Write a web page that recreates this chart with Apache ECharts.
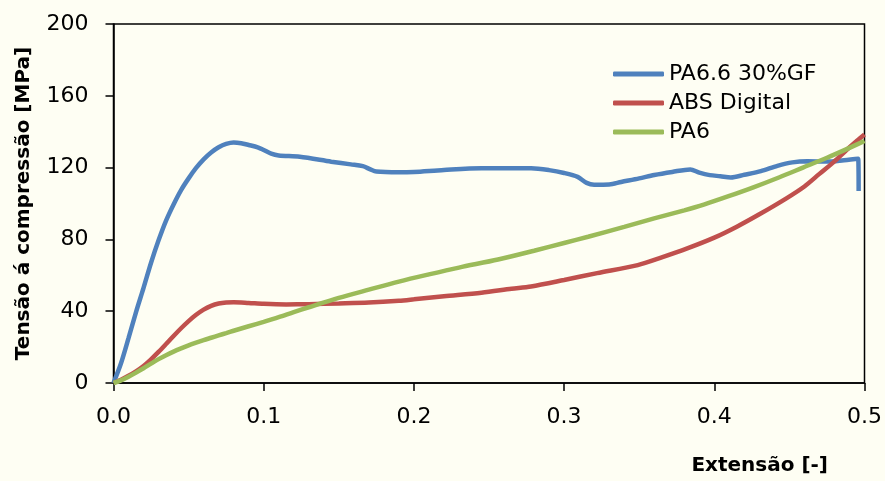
<!DOCTYPE html>
<html>
<head>
<meta charset="utf-8">
<script src="https://cdn.jsdelivr.net/npm/echarts@6/dist/echarts.min.js"></script>
<style>
  html, body { margin: 0; padding: 0; background: #fefef3; }
  #chart { width: 885px; height: 481px; }
</style>
</head>
<body>
<div id="chart"></div>
<script>
// Compression test curves: strain [-] vs compressive stress [MPa]
const seriesNames = ['PA6.6 30%GF', 'ABS Digital', 'PA6'];

const pa66gf = [
  [0, 0], [0.005, 11], [0.01, 25], [0.015, 39.5], [0.02, 53], [0.025, 67], [0.03, 79.5],
  [0.035, 90.5], [0.04, 99.5], [0.045, 107.5], [0.05, 114], [0.055, 119.8],
  [0.06, 124.6], [0.065, 128.4], [0.07, 131.3], [0.075, 133.2], [0.08, 134],
  [0.085, 133.6], [0.09, 132.6], [0.096, 131.3], [0.1, 129.8], [0.105, 127.8],
  [0.11, 126.8], [0.124, 126], [0.145, 123.3], [0.158, 121.8], [0.166, 120.8],
  [0.171, 119], [0.175, 117.8], [0.19, 117.4], [0.2, 117.6], [0.22, 118.7],
  [0.245, 119.6], [0.278, 119.6], [0.29, 118.6], [0.3, 117], [0.309, 114.8],
  [0.315, 111.5], [0.32, 110.5], [0.33, 110.6], [0.338, 112], [0.35, 114],
  [0.36, 115.9], [0.372, 117.6], [0.384, 119], [0.39, 117.2], [0.397, 115.8],
  [0.404, 115.2], [0.411, 114.5], [0.42, 116], [0.431, 118], [0.442, 121],
  [0.452, 122.9], [0.462, 123.5], [0.475, 123.4], [0.485, 124], [0.4958, 125],
  [0.4961, 107]
];

const absDigital = [
  [0, 0], [0.005, 1.8], [0.01, 4], [0.015, 6.5], [0.02, 9.5], [0.025, 13.2],
  [0.03, 17.3], [0.035, 21.7], [0.04, 26.2], [0.045, 30.5], [0.05, 34.5],
  [0.055, 38], [0.06, 40.9], [0.065, 43], [0.07, 44.3], [0.075, 44.9], [0.08, 45],
  [0.09, 44.6], [0.1, 44.1], [0.115, 43.8], [0.13, 43.9], [0.15, 44.3],
  [0.17, 44.8], [0.19, 45.8], [0.2, 46.6], [0.22, 48.3], [0.245, 50.3],
  [0.265, 52.5], [0.278, 53.8], [0.3, 57.4], [0.322, 61.2], [0.349, 65.7],
  [0.365, 70], [0.382, 75], [0.4, 81], [0.415, 87.1], [0.43, 94], [0.448, 102.9],
  [0.46, 109.5], [0.47, 116.5], [0.48, 123.5], [0.488, 129.8], [0.495, 135],
  [0.5, 138.5]
];

const pa6 = [
  [0, 0], [0.005, 1.5], [0.01, 3.5], [0.015, 5.8], [0.02, 8.2], [0.025, 10.8],
  [0.03, 13.3], [0.035, 15.5], [0.04, 17.5], [0.045, 19.3], [0.05, 21],
  [0.055, 22.5], [0.06, 23.9], [0.065, 25.2], [0.07, 26.5], [0.075, 27.8],
  [0.08, 29.1], [0.09, 31.6], [0.1, 34.1], [0.11, 36.7], [0.12, 39.5], [0.13, 42.2],
  [0.15, 47.4], [0.17, 52], [0.19, 56.5], [0.21, 60.5], [0.23, 64.3], [0.256, 68.8],
  [0.28, 73.7], [0.3, 78], [0.316, 81.5], [0.34, 87], [0.36, 91.7], [0.38, 96.2],
  [0.393, 99.4], [0.41, 104.2], [0.426, 109], [0.443, 114.5], [0.459, 120],
  [0.475, 125.5], [0.49, 131], [0.5, 134.8]
];

const xTicks = { min: 0, max: 0.5, interval: 0.1 };
const yTicks = { min: 0, max: 200, interval: 40 };
const colors = ['#4f81bd', '#c0504d', '#9bbb59'];

const font = 'DejaVu Sans';
const chart = echarts.init(document.getElementById('chart'));

function lineSeries(name, data, color) {
  return {
    name: name,
    type: 'line',
    data: data,
    smooth: 0.3,
    showSymbol: false,
    symbol: 'none',
    lineStyle: { color: color, width: 4.5 },
    itemStyle: { color: color },
    clip: true
  };
}

chart.setOption({
  backgroundColor: '#fefef3',
  animation: false,
  textStyle: { fontFamily: font },
  grid: {
    left: 113.5, right: 17, top: 24, bottom: 98,
    show: true, borderColor: '#000', borderWidth: 1.5, backgroundColor: 'transparent'
  },
  legend: {
    orient: 'vertical',
    left: 613, top: 63,
    padding: 0,
    itemGap: 7,
    itemWidth: 51,
    itemHeight: 5,
    icon: 'roundRect',
    textStyle: { fontFamily: font, fontSize: 22, lineHeight: 22, color: '#000', padding: [0, 0, 0, 0] },
    data: seriesNames
  },
  xAxis: {
    type: 'value',
    min: xTicks.min, max: xTicks.max, interval: xTicks.interval,
    axisLine: { lineStyle: { color: '#000', width: 1.5 } },
    axisTick: { show: true, inside: false, length: 8, lineStyle: { color: '#000', width: 1.5 } },
    axisLabel: {
      margin: 23, fontSize: 22, color: '#000', fontFamily: font,
      formatter: v => v.toFixed(1)
    },
    splitLine: { show: false }
  },
  yAxis: {
    type: 'value',
    min: yTicks.min, max: yTicks.max, interval: yTicks.interval,
    name: 'Tensão á compressão [MPa]',
    nameLocation: 'middle',
    nameGap: 80,
    nameTextStyle: { fontSize: 20, fontWeight: 'bold', color: '#000', fontFamily: font },
    axisLine: { show: true, lineStyle: { color: '#000', width: 1.5 } },
    axisTick: { show: true, inside: false, length: 8, lineStyle: { color: '#000', width: 1.5 } },
    axisLabel: { margin: 25, fontSize: 22, color: '#000', fontFamily: font },
    splitLine: { show: false }
  },
  graphic: [{
    type: 'text',
    right: 57,
    top: 456,
    style: {
      text: 'Extensão [-]',
      fill: '#000',
      font: 'bold 20px "DejaVu Sans"'
    }
  }],
  series: [
    lineSeries(seriesNames[0], pa66gf, colors[0]),
    lineSeries(seriesNames[1], absDigital, colors[1]),
    lineSeries(seriesNames[2], pa6, colors[2])
  ]
});
</script>
</body>
</html>
